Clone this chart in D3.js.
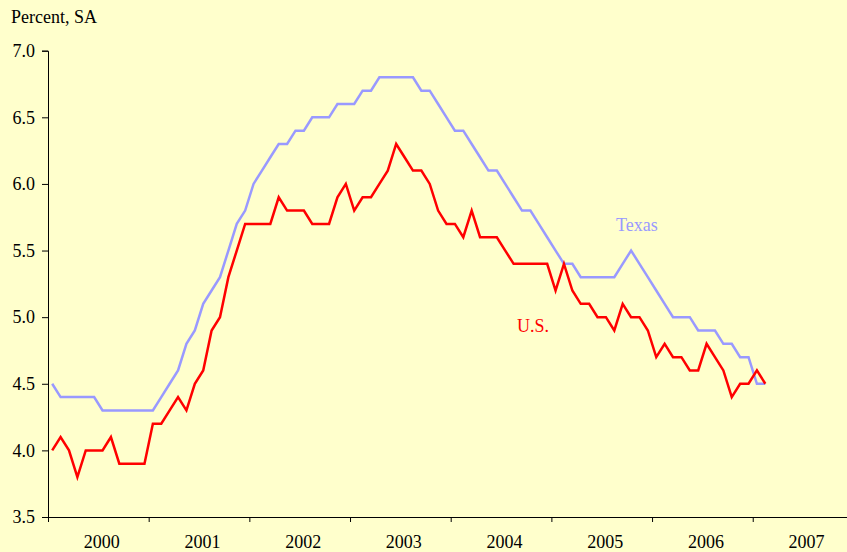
<!DOCTYPE html>
<html>
<head>
<meta charset="utf-8">
<script src="https://cdn.jsdelivr.net/npm/d3@7"></script>
<style>
  html, body { margin: 0; padding: 0; background: #FFFFCC; }
  svg { display: block; font-family: "Liberation Serif", "Times New Roman", serif; }
</style>
</head>
<body>
<div id="chart"></div>
<script>
const width = 847;
const height = 552;

// monthly, seasonally adjusted unemployment rate, Jan 2000 .. Feb 2007
const startYear = 2000;
const years = [2000, 2001, 2002, 2003, 2004, 2005, 2006, 2007];
const yTicks = [3.5, 4.0, 4.5, 5.0, 5.5, 6.0, 6.5, 7.0];

const usRate = [
    4.0, 4.1, 4.0, 3.8, 4.0, 4.0, 4.0, 4.1, 3.9, 3.9, 3.9, 3.9,
    4.2, 4.2, 4.3, 4.4, 4.3, 4.5, 4.6, 4.9, 5.0, 5.3, 5.5, 5.7,
    5.7, 5.7, 5.7, 5.9, 5.8, 5.8, 5.8, 5.7, 5.7, 5.7, 5.9, 6.0,
    5.8, 5.9, 5.9, 6.0, 6.1, 6.3, 6.2, 6.1, 6.1, 6.0, 5.8, 5.7,
    5.7, 5.6, 5.8, 5.6, 5.6, 5.6, 5.5, 5.4, 5.4, 5.4, 5.4, 5.4,
    5.2, 5.4, 5.2, 5.1, 5.1, 5.0, 5.0, 4.9, 5.1, 5.0, 5.0, 4.9,
    4.7, 4.8, 4.7, 4.7, 4.6, 4.6, 4.8, 4.7, 4.6, 4.4, 4.5, 4.5,
    4.6, 4.5
];

const texasRate = [
    4.5, 4.4, 4.4, 4.4, 4.4, 4.4, 4.3, 4.3, 4.3, 4.3, 4.3, 4.3,
    4.3, 4.4, 4.5, 4.6, 4.8, 4.9, 5.1, 5.2, 5.3, 5.5, 5.7, 5.8,
    6.0, 6.1, 6.2, 6.3, 6.3, 6.4, 6.4, 6.5, 6.5, 6.5, 6.6, 6.6,
    6.6, 6.7, 6.7, 6.8, 6.8, 6.8, 6.8, 6.8, 6.7, 6.7, 6.6, 6.5,
    6.4, 6.4, 6.3, 6.2, 6.1, 6.1, 6.0, 5.9, 5.8, 5.8, 5.7, 5.6,
    5.5, 5.4, 5.4, 5.3, 5.3, 5.3, 5.3, 5.3, 5.4, 5.5, 5.4, 5.3,
    5.2, 5.1, 5.0, 5.0, 5.0, 4.9, 4.9, 4.9, 4.8, 4.8, 4.7, 4.7,
    4.5, 4.5
];

const svg = d3.select('#chart')
    .append('svg')
    .attr('width', width)
    .attr('height', height);

svg.append('rect')
    .attr('width', width)
    .attr('height', height)
    .attr('fill', '#FFFFCC');

const x = d3.scaleLinear()
    .domain([2000, 2008])
    .range([48, 853.4]);

const y = d3.scaleLinear()
    .domain([3.5, 7.0])
    .range([517, 50.7]);

// month index -> middle of that month
const xm = i => x(startYear + (i + 0.5) / 12);

// y axis
const yAxis = svg.append('g')
    .attr('transform', 'translate(48,0)')
    .call(d3.axisLeft(y)
        .tickValues(yTicks)
        .tickFormat(d3.format('.1f'))
        .tickSize(6)
        .tickPadding(7));

yAxis.select('.domain').attr('stroke', '#000');
yAxis.selectAll('text')
    .attr('font-size', 18)
    .attr('font-family', '"Liberation Serif", serif')
    .attr('fill', '#000');

// x axis, ticks at year boundaries, labels between them
const xAxis = svg.append('g')
    .attr('transform', 'translate(0,517)')
    .call(d3.axisBottom(x)
        .tickValues(years)
        .tickFormat('')
        .tickSize(5)
        .tickSizeOuter(0));

xAxis.select('.domain').attr('stroke', '#000');

svg.append('g')
    .selectAll('text')
    .data(years)
    .join('text')
    .attr('x', d => x(d + 0.5) + 3.5)
    .attr('y', 548)
    .attr('text-anchor', 'middle')
    .attr('font-size', 18)
    .attr('fill', '#000')
    .text(d => d);

svg.append('text')
    .attr('x', 11)
    .attr('y', 23)
    .attr('font-size', 18)
    .attr('fill', '#000')
    .text('Percent, SA');

const line = d3.line()
    .x((d, i) => xm(i))
    .y(d => y(d));

svg.append('path')
    .datum(texasRate)
    .attr('d', line)
    .attr('fill', 'none')
    .attr('stroke', '#9999FF')
    .attr('stroke-width', 2.5)
    .attr('stroke-linejoin', 'miter');

svg.append('path')
    .datum(usRate)
    .attr('d', line)
    .attr('fill', 'none')
    .attr('stroke', '#FF0000')
    .attr('stroke-width', 2.5)
    .attr('stroke-linejoin', 'miter');

// series labels
svg.append('text')
    .attr('x', 616)
    .attr('y', 231)
    .attr('font-size', 18)
    .attr('fill', '#9999FF')
    .text('Texas');

svg.append('text')
    .attr('x', 517)
    .attr('y', 332)
    .attr('font-size', 18)
    .attr('fill', '#FF0000')
    .text('U.S.');
</script>
</body>
</html>
